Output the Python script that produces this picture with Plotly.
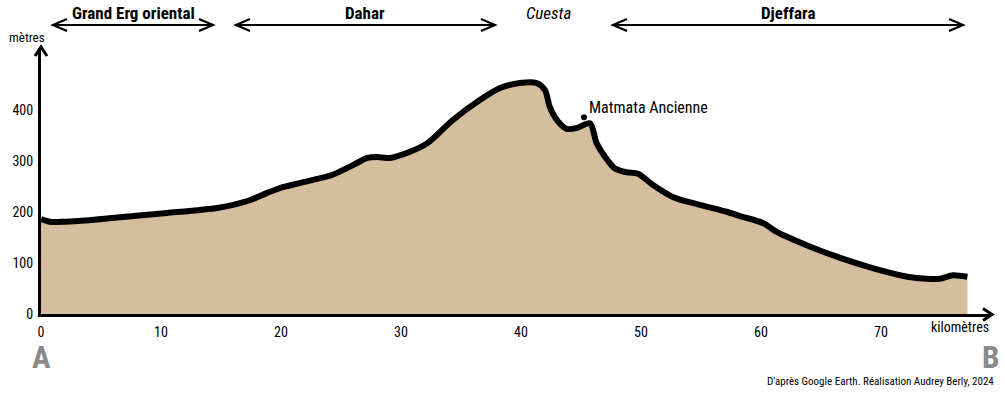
import plotly.graph_objects as go

# ---- Data ----
distance_km = [0, 0.7, 2, 4, 7.7, 10.5, 14.7, 16, 17.4, 18.8, 19.9, 21.6, 24.3, 26,
               27.2, 28, 29.1, 30.75, 32.2, 34.3, 36.6, 38.25, 39.9, 41.3, 42, 42.4,
               43, 43.8, 44.7, 45.75, 46.3, 47.2, 47.8, 48.8, 49.75, 51, 52.7, 54.9,
               57.2, 58.25, 60.2, 61.3, 63.8, 66.6, 69.3, 72.2, 73.8, 74.9, 76, 77.2]
altitude_m = [186, 181, 181, 184, 192, 198, 208, 214, 223, 237, 247, 257, 273, 292,
              306, 308, 306, 318, 335, 380, 420, 443, 453, 453, 439, 406,
              380, 363, 365, 374, 335, 302, 286, 278, 275, 253, 229, 214,
              200, 192, 178, 161, 135, 110, 90, 73, 69, 69, 76, 73]

x_ticks = [0, 10, 20, 30, 40, 50, 60, 70]
y_ticks = [0, 100, 200, 300, 400]

matmata_km = [45.25]
matmata_alt = [386]
matmata_label = "Matmata Ancienne"

regions = ["Grand Erg oriental", "Dahar", "Cuesta", "Djeffara"]

# ---- Layout geometry (pixels) ----
W, H = 1005, 393
L, R, T, B = 41, 15, 48, 79
PW, PH = W - L - R, H - T - B
X_MAX = PW / 12.0
Y_MAX = PH / 0.51


def px(x):
    return (x - L) / PW


def py(y):
    return (H - B - y) / PH


COND = "Roboto Condensed, Liberation Sans Narrow, DejaVu Sans Condensed, Roboto, sans-serif"
FILL = "#D4BE9D"

fig = go.Figure()
fig.add_trace(go.Scatter(
    x=distance_km, y=altitude_m, mode="lines", fill="tozeroy",
    fillcolor=FILL, line=dict(color="black", width=6, shape="spline", smoothing=0.8),
    hoverinfo="skip", showlegend=False))
fig.add_trace(go.Scatter(
    x=matmata_km, y=matmata_alt, mode="markers",
    marker=dict(color="black", size=6), showlegend=False, hoverinfo="skip"))

shapes = []
annotations = []


def chevron(tip_x, tip_y, direction, back=14, half=6, width=2.2):
    if direction == "right":
        pts = [(tip_x - back, tip_y - half), (tip_x, tip_y), (tip_x - back, tip_y + half)]
    elif direction == "left":
        pts = [(tip_x + back, tip_y - half), (tip_x, tip_y), (tip_x + back, tip_y + half)]
    else:  # up
        pts = [(tip_x - half, tip_y + back), (tip_x, tip_y), (tip_x + half, tip_y + back)]
    path = "M {} {} L {} {} L {} {}".format(
        px(pts[0][0]), py(pts[0][1]), px(pts[1][0]), py(pts[1][1]), px(pts[2][0]), py(pts[2][1]))
    shapes.append(dict(type="path", path=path, xref="paper", yref="paper",
                       line=dict(color="black", width=width), layer="above"))


def dbl_arrow(x0, x1, y):
    shapes.append(dict(type="line", xref="paper", yref="paper", x0=px(x0), x1=px(x1),
                       y0=py(y), y1=py(y), line=dict(color="black", width=2.2)))
    chevron(x0, y, "left")
    chevron(x1, y, "right")


ARW_Y = 25
dbl_arrow(53, 213, ARW_Y)
dbl_arrow(236, 495, ARW_Y)
dbl_arrow(613, 963, ARW_Y)

# axis arrowheads
chevron(992, 314.5, "right", back=9, half=6, width=3)
chevron(41, 47, "up", back=9, half=6, width=3)


def text(x, y, s, size, bold=False, italic=False, color="black", xanchor="center",
         family=COND):
    if bold:
        s = "<b>" + s + "</b>"
    if italic:
        s = "<i>" + s + "</i>"
    annotations.append(dict(x=px(x), y=py(y), xref="paper", yref="paper", text=s,
                            showarrow=False, xanchor=xanchor, yanchor="middle",
                            font=dict(size=size, color=color, family=family)))


text(133, 13, regions[0], 17, bold=True)
text(365, 13, regions[1], 17, bold=True)
text(548, 13, regions[2], 17, italic=True)
text(788, 13, regions[3], 17, bold=True)

text(27, 38, "mètres", 13)
text(960, 327, "kilomètres", 14)
text(41, 357, "A", 31, bold=True, color="#8a8a8a")
text(990, 357, "B", 31, bold=True, color="#8a8a8a")
text(996, 381, "D'après Google Earth. Réalisation Audrey Berly, 2024", 11, xanchor="right")

annotations.append(dict(x=matmata_km[0], y=matmata_alt[0], xref="x", yref="y",
                        text=matmata_label, showarrow=False, xanchor="left",
                        yanchor="bottom", xshift=3, yshift=-2,
                        font=dict(size=16, color="black", family=COND)))

fig.update_layout(
    width=W, height=H, margin=dict(l=L, r=R, t=T, b=B),
    paper_bgcolor="white", plot_bgcolor="white",
    shapes=shapes, annotations=annotations,
    xaxis=dict(range=[0, X_MAX], tickvals=x_ticks, showgrid=False, zeroline=False,
               showline=True, linecolor="black", linewidth=3,
               ticks="outside", ticklen=3, tickcolor="rgba(0,0,0,0)",
               tickfont=dict(size=14, family=COND, color="black"), fixedrange=True),
    yaxis=dict(range=[0, Y_MAX], tickvals=y_ticks, showgrid=False, zeroline=False,
               showline=True, linecolor="black", linewidth=3,
               ticks="outside", ticklen=2, tickcolor="rgba(0,0,0,0)",
               tickfont=dict(size=14, family=COND, color="black"), fixedrange=True),
)

fig.write_html("out.html", config={"displayModeBar": False},
               post_script="document.body.style.margin='0';document.body.style.overflow='hidden';")
